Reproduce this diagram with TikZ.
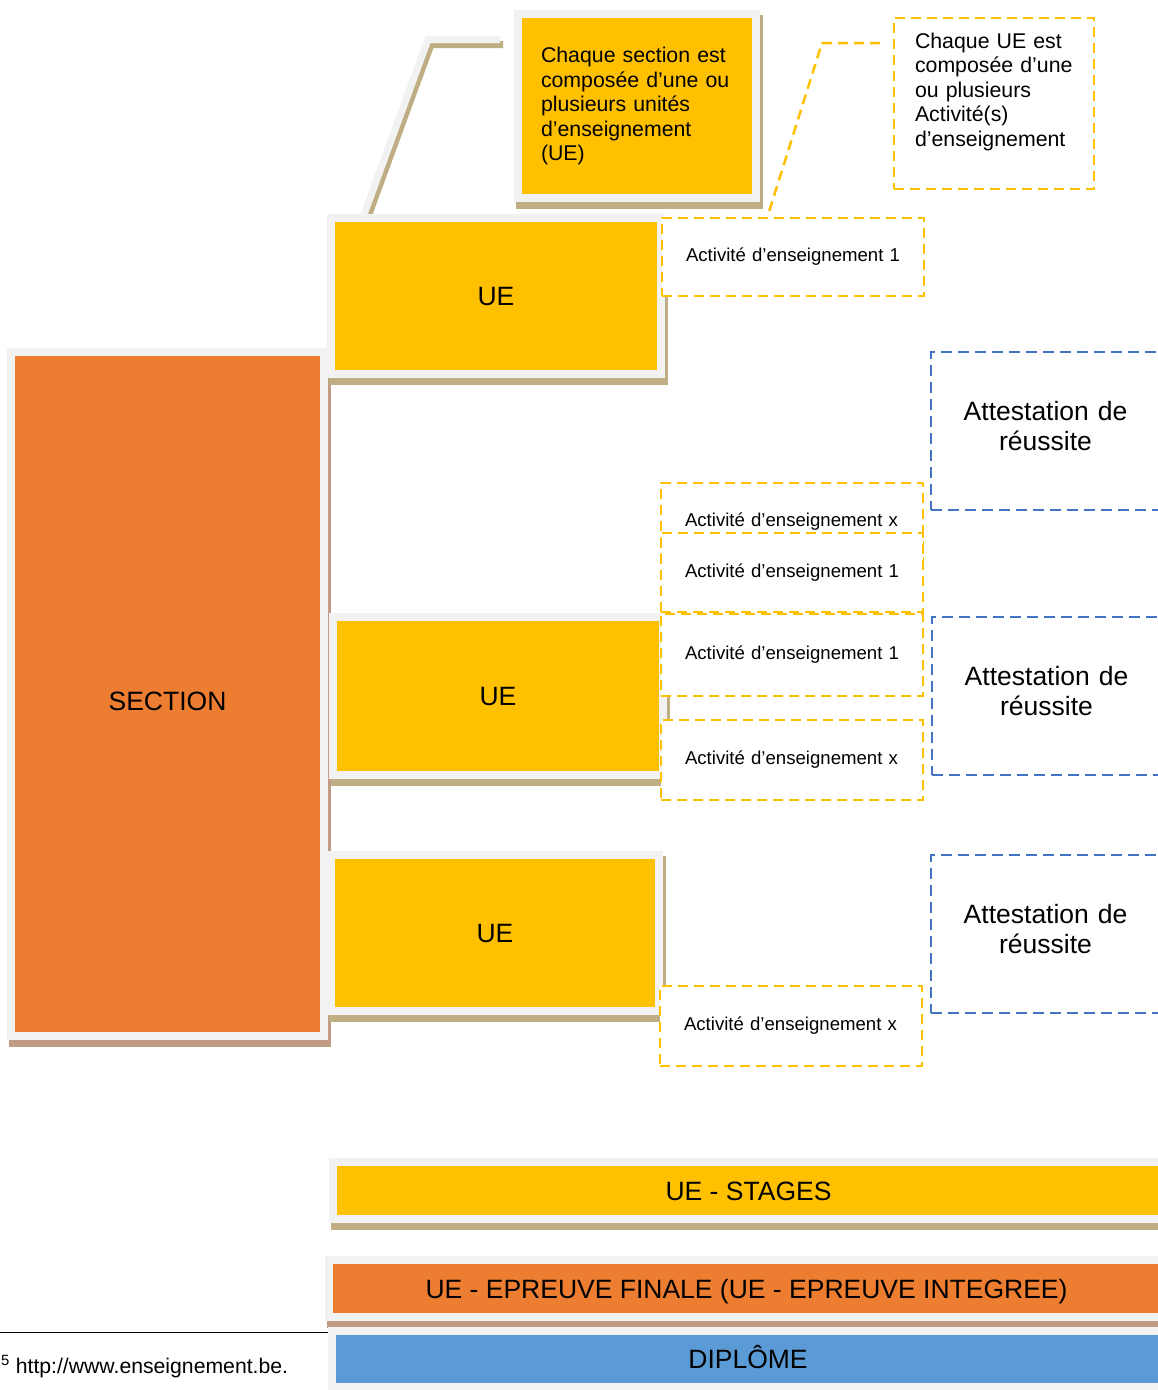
\documentclass[tikz,border=0pt]{standalone}
\usepackage{fontspec}
\setmainfont{Liberation Sans}
\usetikzlibrary{calc,backgrounds}
\definecolor{ueyellow}{HTML}{FFC000}
\definecolor{secorange}{HTML}{ED7D31}
\definecolor{dipblue}{HTML}{5B9BD5}
\definecolor{framegrey}{HTML}{F2F2F2}
\definecolor{tanshadow}{HTML}{BFAE84}
\definecolor{brownshadow}{HTML}{C19B83}
\definecolor{dashblue}{HTML}{4472C4}
\newcommand\bigtxt{\fontsize{26.5pt}{30pt}\selectfont}
\newcommand\calltxt{\fontsize{21.3pt}{24.5pt}\selectfont}
\newcommand\acttxt{\fontsize{18.6pt}{22pt}\selectfont}
\newcommand\fntxt{\fontsize{21.2pt}{24pt}\selectfont}
\newcommand\boxshadow[2]{\fill[#2] ([shift={(-2,1)}]#1.north west) rectangle ([shift={(7,11)}]#1.south east);}
\begin{document}
\begin{tikzpicture}[x=1pt,y=-1pt,
  framebox/.style={draw=framegrey, line width=8pt, inner sep=0pt, outer sep=0pt, anchor=north west},
  bigbox/.style={framebox, font=\bigtxt, text height=19pt, text depth=0pt},
  actbox/.style={draw=ueyellow, fill=white, line width=2.5pt, dash pattern=on 10pt off 6pt, anchor=north west, inner xsep=24pt, inner ysep=0pt, outer sep=0pt, minimum width=262pt, text width=214pt, align=left, font=\acttxt},
  attbox/.style={draw=dashblue, line width=2.5pt, dash pattern=on 11pt off 6pt, anchor=north west, inner sep=0pt, outer sep=0pt, minimum width=229pt, minimum height=158pt, text width=200pt, align=center, font=\bigtxt, text height=19pt, text depth=40pt},
  leaderline/.style={line width=7pt},
  yleader/.style={draw=ueyellow, line width=2.5pt, dash pattern=on 10pt off 6pt},
]
\useasboundingbox (0,0) rectangle (1158,1390);
\clip (0,0) rectangle (1158,1390);

% main boxes
\node[bigbox, fill=secorange, minimum width=313pt, minimum height=684pt, text height=33pt] (section) at (11,352) {SECTION};
\node[framebox, fill=ueyellow, minimum width=238pt, minimum height=184pt, inner xsep=23pt, text width=192pt, align=left, font=\calltxt] (note1) at (518,14)
  {Chaque section est\\composée d’une ou\\plusieurs unités\\d’enseignement\\(UE)};
\node[bigbox, fill=ueyellow, minimum width=330pt, minimum height=156pt] (ue1) at (331,218) {UE};
\node[bigbox, fill=ueyellow, minimum width=330pt, minimum height=158pt] (ue2) at (333,617) {UE};
\node[bigbox, fill=ueyellow, minimum width=328pt, minimum height=156pt] (ue3) at (331,855) {UE};

% bottom bars
\node[bigbox, fill=ueyellow, minimum width=831pt, minimum height=57pt] (stages) at (333,1162) {UE - STAGES};
\node[bigbox, fill=secorange, minimum width=835pt, minimum height=57pt] (epreuve) at (329,1260) {UE - EPREUVE FINALE (UE - EPREUVE INTEGREE)};
\node[bigbox, fill=dipblue, minimum width=832pt, minimum height=56pt] (diplome) at (332,1330.5) {DIPLÔME};

% UE note
\node[draw=ueyellow, line width=2.5pt, dash pattern=on 10pt off 6pt, anchor=north west, inner xsep=21pt, inner ysep=10pt, outer sep=0pt,
  minimum width=200pt, text width=158pt, align=left, font=\calltxt, text height=20pt, text depth=131pt] (note2) at (894,18)
  {Chaque UE est\\composée d’une\\ou plusieurs\\Activité(s)\\d’enseignement};

% activity boxes
\node[actbox, minimum height=78pt, minimum width=261pt] (act1) at (662,218) {\mbox{Activité d’enseignement 1}};
\node[actbox, minimum height=78pt] (actx1) at (661,483) {\mbox{Activité d’enseignement x}};
\node[actbox, minimum height=79pt] (act1b) at (661,533) {\mbox{Activité d’enseignement 1}};
\node[actbox, minimum height=82pt] (act1c) at (661,614) {\mbox{Activité d’enseignement 1}};
\node[actbox, minimum height=80pt] (actx2) at (661,720) {\mbox{Activité d’enseignement x}};
\node[actbox, minimum height=80pt] (actx3) at (660,986) {\mbox{Activité d’enseignement x}};

% attestation boxes
\node[attbox] (att1) at (931,352) {Attestation de\\réussite};
\node[attbox] (att2) at (932,617) {Attestation de\\réussite};
\node[attbox] (att3) at (931,855) {Attestation de\\réussite};

% leader of the UE note
\coordinate (l2a) at ($(note2.north west)+(-14,25)$);
\coordinate (l2b) at (822,43);
\coordinate (l2c) at ($(act1.north west)+(106,-3)$);
\draw[yleader] (l2a) -- (l2b) -- (l2c);

% footnote
\coordinate (fnl) at (0,1332.5);
\coordinate (fnr) at (328,1332.5);
\draw[line width=1.5pt] (fnl) -- (fnr);
\node[anchor=base west, inner sep=0pt, font=\fntxt] (fn) at (1,1373.5) {\textsuperscript{5} http://www.enseignement.be.};

% leader of the section note and shadows
\coordinate (l1a) at (500,39.5);
\coordinate (l1b) at (428,39.5);
\coordinate (l1c) at ($(ue1.north west)+(31,2)$);
\begin{pgfonlayer}{background}
  \draw[leaderline, draw=tanshadow, transform canvas={shift={(3,5)}}] (l1a) -- (l1b) -- (l1c);
  \draw[leaderline, draw=framegrey] (l1a) -- (l1b) -- (l1c);
  \boxshadow{section}{brownshadow}
  \boxshadow{note1}{tanshadow}
  \boxshadow{ue1}{tanshadow}
  \boxshadow{ue2}{tanshadow}
  \boxshadow{ue3}{tanshadow}
  \boxshadow{stages}{tanshadow}
  \boxshadow{epreuve}{brownshadow}
\end{pgfonlayer}
\end{tikzpicture}
\end{document}
